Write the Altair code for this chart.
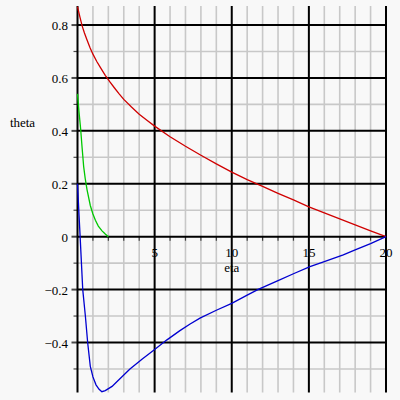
import altair as alt
import pandas as pd

# --- curve data: theta(eta) for three solution branches ---
eta_red = [0, 0.15, 0.3, 0.45, 0.6, 0.8, 1.0, 1.25, 1.5, 1.8, 2.1, 2.4, 2.7, 3,
           3.5, 4, 4.5, 5, 6, 7, 8, 9, 10, 11, 12, 13, 14, 15, 16, 17, 18, 19, 20]
theta_red = [0.87, 0.832, 0.797, 0.77, 0.746, 0.716, 0.69, 0.662, 0.638, 0.61,
             0.585, 0.562, 0.54, 0.519, 0.49, 0.463, 0.44, 0.418, 0.378, 0.342,
             0.308, 0.275, 0.244, 0.216, 0.19, 0.164, 0.139, 0.113, 0.09, 0.067,
             0.045, 0.022, 0]

eta_green = [0, 0.1, 0.2, 0.3, 0.4, 0.5, 0.62, 0.83, 1.0, 1.16, 1.35, 1.59, 1.8, 2.0]
theta_green = [0.54, 0.47, 0.41, 0.335, 0.265, 0.22, 0.177, 0.118, 0.086, 0.062,
               0.04, 0.022, 0.01, 0.0]

eta_blue = [0, 0.05, 0.1, 0.18, 0.34, 0.51, 0.66, 0.83, 1.0, 1.2, 1.4, 1.58, 1.8,
            2.24, 2.75, 3.4, 4.2, 4.96, 5.8, 6.64, 7.3, 7.94, 9, 10, 11, 11.72, 13,
            14, 15.07, 16, 17.23, 18, 19, 20]
theta_blue = [0.2, 0.14, 0.08, -0.011, -0.2, -0.3, -0.401, -0.49, -0.53, -0.56,
              -0.577, -0.586, -0.582, -0.566, -0.537, -0.5, -0.462, -0.428,
              -0.39, -0.355, -0.33, -0.308, -0.278, -0.252, -0.221, -0.199,
              -0.166, -0.14, -0.113, -0.094, -0.069, -0.05, -0.026, 0]

# --- grid / tick positions and labels ---
major_x = [0, 5, 10, 15, 20]
minor_x = [1, 2, 3, 4, 6, 7, 8, 9, 11, 12, 13, 14, 16, 17, 18, 19]
major_y = [0.8, 0.6, 0.4, 0.2, 0, -0.2, -0.4]
minor_y = [0.7, 0.5, 0.3, 0.1, -0.1, -0.3, -0.5]
y_labels = ["0.8", "0.6", "0.4", "0.2", "0", "\u22120.2", "\u22120.4"]
x_label_vals = [5, 10, 15, 20]
x_labels = ["5", "10", "15", "20"]

FONT = "Liberation Serif"
xs = alt.Scale(domain=[0, 20], nice=False, zero=False)
ys = alt.Scale(domain=[-0.589, 0.872], nice=False, zero=False)

curves = pd.concat([
    pd.DataFrame({"eta": eta_red, "theta": theta_red, "branch": "red"}),
    pd.DataFrame({"eta": eta_green, "theta": theta_green, "branch": "green"}),
    pd.DataFrame({"eta": eta_blue, "theta": theta_blue, "branch": "blue"}),
])

df_minor_x = pd.DataFrame({"x": minor_x, "zero": 0})
df_major_x = pd.DataFrame({"x": major_x})
df_minor_y = pd.DataFrame({"y": minor_y, "zero": 0})
df_major_y = pd.DataFrame({"y": major_y, "zero": 0, "label": y_labels})
df_xlab = pd.DataFrame({"x": x_label_vals, "zero": 0, "label": x_labels})

grey_v = alt.Chart(df_minor_x).mark_rule(color="#c8c8c8", strokeWidth=1.6).encode(
    x=alt.X("x:Q", scale=xs, axis=None))
grey_h = alt.Chart(df_minor_y).mark_rule(color="#c8c8c8", strokeWidth=1.6).encode(
    y=alt.Y("y:Q", scale=ys, axis=None))
black_v = alt.Chart(df_major_x).mark_rule(color="black", strokeWidth=2).encode(
    x=alt.X("x:Q", scale=xs, axis=None))
black_h = alt.Chart(df_major_y).mark_rule(color="black", strokeWidth=2).encode(
    y=alt.Y("y:Q", scale=ys, axis=None))

# small ticks on the axes
x_ticks = alt.Chart(df_minor_x).mark_tick(
    orient="vertical", color="black", size=4, thickness=1.2, yOffset=2
).encode(x=alt.X("x:Q", scale=xs, axis=None), y=alt.Y("zero:Q", scale=ys, axis=None))
y_ticks_minor = alt.Chart(df_minor_y).mark_tick(
    orient="horizontal", color="black", size=4, thickness=1.2, xOffset=-2
).encode(x=alt.X("zero:Q", scale=xs, axis=None), y=alt.Y("y:Q", scale=ys, axis=None))
y_ticks_major = alt.Chart(df_major_y).mark_tick(
    orient="horizontal", color="black", size=6, thickness=2, xOffset=-3
).encode(x=alt.X("zero:Q", scale=xs, axis=None), y=alt.Y("y:Q", scale=ys, axis=None))

y_text = alt.Chart(df_major_y).mark_text(
    font=FONT, fontSize=13, align="right", baseline="middle", dx=-9.5, dy=1, color="black"
).encode(x=alt.X("zero:Q", scale=xs, axis=None), y=alt.Y("y:Q", scale=ys, axis=None),
         text="label:N")
x_text = alt.Chart(df_xlab).mark_text(
    font=FONT, fontSize=13, align="center", baseline="middle", dy=16.5, color="black"
).encode(x=alt.X("x:Q", scale=xs, axis=None), y=alt.Y("zero:Q", scale=ys, axis=None),
         text="label:N")

eta_title = alt.Chart(pd.DataFrame({"x": [10], "y": [0], "t": ["eta"]})).mark_text(
    font=FONT, fontSize=13, align="center", baseline="middle", dy=31.5, color="black"
).encode(x=alt.X("x:Q", scale=xs, axis=None), y=alt.Y("y:Q", scale=ys, axis=None), text="t:N")
theta_title = alt.Chart(pd.DataFrame({"t": ["theta"]})).mark_text(
    font=FONT, fontSize=13, align="center", baseline="middle", color="black"
).encode(x=alt.value(-55), y=alt.value(116.5), text="t:N")

lines = alt.Chart(curves).mark_line(strokeWidth=1.3).encode(
    x=alt.X("eta:Q", scale=xs, axis=None),
    y=alt.Y("theta:Q", scale=ys, axis=None),
    color=alt.Color("branch:N", legend=None,
                    scale=alt.Scale(domain=["red", "green", "blue"],
                                    range=["#d00000", "#00c800", "#0000d0"])),
)

chart = alt.layer(
    grey_v, grey_h, black_v, black_h, x_ticks, y_ticks_minor, y_ticks_major,
    lines, y_text, x_text, eta_title, theta_title,
).properties(
    width=308.5, height=386.5,
    autosize="none",
    padding={"left": 77.5, "top": 6, "right": 14, "bottom": 7.5},
    background="#f8f8f8",
).configure_view(stroke=None)

chart.save("out.html", embed_options={"renderer": "svg", "actions": False})
